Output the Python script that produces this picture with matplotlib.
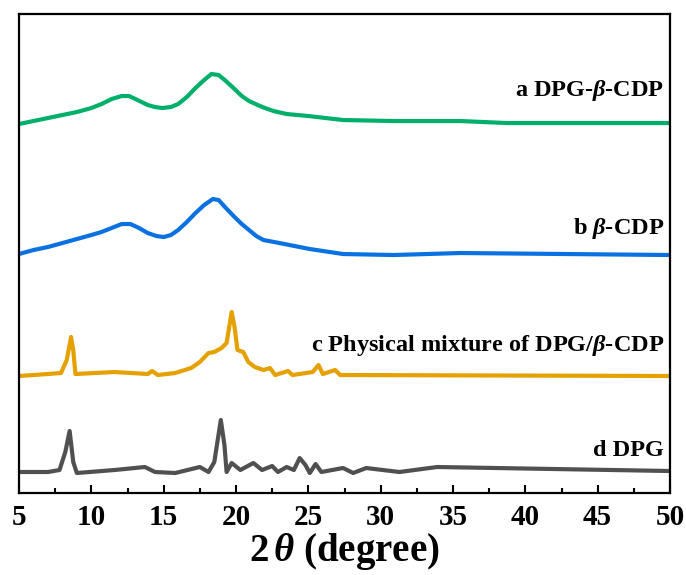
import numpy as np
import matplotlib
matplotlib.use('Agg')
import matplotlib.pyplot as plt

plt.rcParams['font.family'] = ['Liberation Serif', 'DejaVu Serif']
plt.rcParams['font.weight'] = 'bold'
plt.rcParams['mathtext.fontset'] = 'custom'
plt.rcParams['mathtext.rm'] = 'Liberation Serif:bold'
plt.rcParams['mathtext.it'] = 'Liberation Serif:italic:bold'
plt.rcParams['mathtext.bf'] = 'Liberation Serif:bold'

# XRD patterns (2theta, intensity a.u. with stacking offset)
tt_a = [5.0, 6.0, 7.0, 8.0, 9.0, 10.0, 10.7, 11.4, 12.1, 12.6, 13.2, 13.9, 14.4,
        14.9, 15.5, 16.0, 16.6, 17.2, 17.8, 18.3, 18.8, 19.3, 19.9, 20.4, 20.9,
        21.5, 22.0, 22.6, 23.5, 25.0, 27.4, 30.9, 35.5, 38.7, 50.0]
int_a = [369, 372, 375, 378, 381, 385, 389, 394, 397, 397, 393, 388, 386,
         385, 386, 389, 396, 405, 413, 419, 418, 412, 404, 397, 392,
         388, 385, 382, 379, 377, 373, 372, 372, 370, 370]

tt_b = [5.0, 6.0, 7.0, 8.0, 9.0, 10.0, 10.7, 11.4, 12.1, 12.7, 13.3, 13.9, 14.5,
        15.0, 15.5, 16.0, 16.6, 17.2, 17.8, 18.4, 18.8, 19.3, 19.9, 20.4, 20.9,
        21.4, 21.9, 23.0, 25.1, 27.4, 30.9, 35.5, 50.0]
int_b = [239, 243, 246, 250, 254, 258, 261, 265, 269, 269, 265, 260, 257,
         256, 258, 263, 271, 280, 288, 294, 293, 285, 276, 269, 263,
         257, 253, 250, 244, 239, 238, 240, 238]

tt_c = [5.0, 7.0, 7.9, 8.3, 8.6, 8.75, 8.9, 11.6, 13.9, 14.2, 14.6, 15.8, 16.9,
        17.5, 18.1, 18.5, 19.0, 19.35, 19.7, 19.9, 20.1, 20.5, 20.85, 21.3, 21.9,
        22.35, 22.7, 23.6, 23.9, 25.3, 25.7, 26.0, 26.85, 27.2, 50.0]
int_c = [117, 119, 120, 133, 156, 143, 119, 121, 119, 122, 118, 120, 125,
         131, 140, 141, 145, 150, 181, 166, 143, 141, 131, 126, 123,
         125, 118, 122, 118, 121, 128, 119, 123, 118, 117]

tt_d = [5.0, 7.0, 7.8, 8.2, 8.5, 8.75, 9.0, 11.6, 13.7, 14.4, 15.8, 17.5, 18.1,
        18.5, 18.95, 19.2, 19.35, 19.7, 20.3, 21.2, 21.8, 22.5, 22.9, 23.5, 24.0,
        24.4, 24.8, 25.1, 25.5, 25.9, 27.4, 28.1, 29.0, 31.3, 33.9, 50.0]
int_d = [21, 21, 23, 41, 62, 31, 20, 23, 26, 21, 20, 26, 21,
         31, 73, 48, 21, 30, 23, 30, 23, 27, 21, 26, 23,
         35, 28, 20, 29, 21, 25, 20, 25, 21, 26, 22]

labels = ['a DPG-$\\beta$-CDP', 'b $\\beta$-CDP',
          'c Physical mixture of DPG/$\\beta$-CDP', 'd DPG']
label_y = [403, 265, 148, 43]
colors = ['#00B06A', '#0A72E0', '#E5A100', '#505050']

fig = plt.figure(figsize=(6.86, 5.75), dpi=100)
ax = fig.add_axes([0.0277, 0.1426, 0.949, 0.833])

for tt, yy, c in zip([tt_a, tt_b, tt_c, tt_d], [int_a, int_b, int_c, int_d], colors):
    ax.plot(tt, yy, color=c, lw=3.0, solid_joinstyle='round')

for lab, ly in zip(labels, label_y):
    ax.text(49.6, ly, lab, ha='right', va='center', fontsize=17.5, fontweight='bold')

ax.set_xlim(5, 50)
ax.set_ylim(0, 479)
ax.set_xticks(np.arange(5, 51, 5))
ax.set_xticks(np.arange(7.5, 50, 5), minor=True)
ax.set_yticks([])
ax.tick_params(axis='x', which='major', direction='in', length=6, width=1.5,
               labelsize=21, pad=8)
ax.tick_params(axis='x', which='minor', direction='in', length=3.5, width=1.5)
for lab in ax.get_xticklabels():
    lab.set_fontweight('bold')
for s in ax.spines.values():
    s.set_linewidth(1.6)
ax.set_xlabel('2$\\,\\theta$ (degree)', fontsize=28, fontweight='bold', labelpad=0)

fig.savefig('out.png', dpi=100)
